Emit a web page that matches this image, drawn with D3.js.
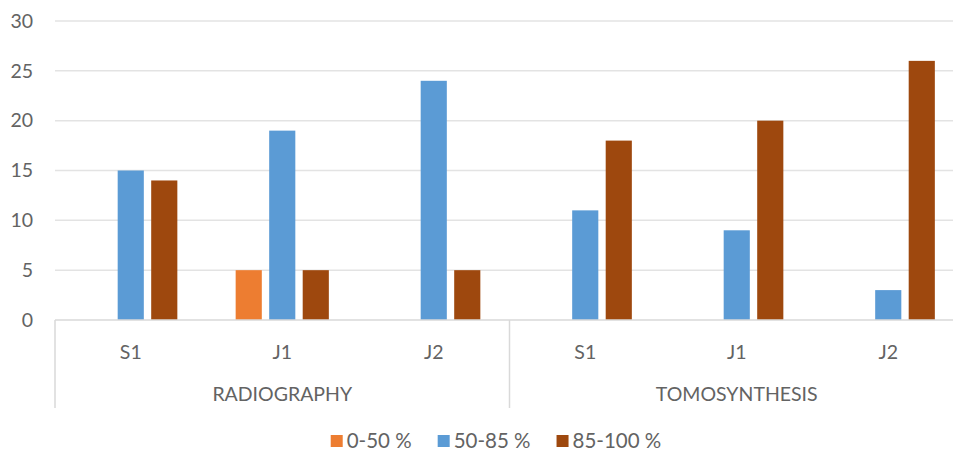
<!DOCTYPE html>
<html>
<head>
<meta charset="utf-8">
<script src="https://cdn.jsdelivr.net/npm/d3@7"></script>
<style>
  html, body { margin: 0; padding: 0; background: #fff; }
  svg { display: block; font-family: Lato, "Open Sans", sans-serif; }
</style>
</head>
<body>
<svg id="chart" width="953" height="451"></svg>
<script>
// Scores per reader, grouped by imaging modality
const groups = ["RADIOGRAPHY", "TOMOSYNTHESIS"];
const readers = ["S1", "J1", "J2"];
const seriesNames = ["0-50 %", "50-85 %", "85-100 %"];
const seriesColors = ["#ED7D31", "#5B9BD5", "#9E480E"];
const low = [0, 5, 0, 0, 0, 0];
const mid = [15, 19, 24, 11, 9, 3];
const high = [14, 5, 5, 18, 20, 26];
const yTicks = [0, 5, 10, 15, 20, 25, 30];

const seriesValues = [low, mid, high];
const categories = [];
groups.forEach(g => readers.forEach(r => categories.push({ key: g + "|" + r, group: g, reader: r })));

const svg = d3.select("#chart");
const plotLeft = 55, plotRight = 964, plotTop = 21, plotBottom = 320;
const textColor = "#636363";
const fontSize = 19.5;

const x0 = d3.scaleBand().domain(categories.map(c => c.key)).range([plotLeft, plotRight]);
const x1 = d3.scaleBand().domain(seriesNames).range([0, x0.bandwidth()])
  .paddingInner(0.22).paddingOuter(0.87);
const y = d3.scaleLinear().domain([0, 30]).range([plotBottom, plotTop]);

// Horizontal gridlines
svg.append("g").selectAll("line").data(yTicks.filter(t => t > 0)).join("line")
  .attr("x1", plotLeft).attr("x2", 953)
  .attr("y1", d => y(d)).attr("y2", d => y(d))
  .attr("stroke", "#e3e3e3").attr("stroke-width", 1.5);

// Y axis labels
svg.append("g").selectAll("text").data(yTicks).join("text")
  .attr("x", 33).attr("y", d => y(d)).attr("dy", "0.35em")
  .attr("text-anchor", "end").attr("fill", textColor).attr("font-size", fontSize)
  .text(d => d);

// Bars
const barData = [];
categories.forEach((c, i) => seriesNames.forEach((s, j) => {
  barData.push({ cat: c.key, series: s, value: seriesValues[j][i], color: seriesColors[j] });
}));
svg.append("g").selectAll("rect").data(barData.filter(d => d.value > 0)).join("rect")
  .attr("x", d => x0(d.cat) + x1(d.series))
  .attr("width", x1.bandwidth())
  .attr("y", d => y(d.value))
  .attr("height", d => y(0) - y(d.value))
  .attr("fill", d => d.color);

// Category axis: baseline and group separators
svg.append("line").attr("x1", plotLeft).attr("x2", 953).attr("y1", y(0)).attr("y2", y(0))
  .attr("stroke", "#d9d9d9").attr("stroke-width", 1.5);
const sepX = groups.map(g => x0(g + "|" + readers[0]));
svg.append("g").selectAll("line").data(sepX).join("line")
  .attr("x1", d => d).attr("x2", d => d)
  .attr("y1", y(0)).attr("y2", 408)
  .attr("stroke", "#d9d9d9").attr("stroke-width", 1.5);

// Reader labels
svg.append("g").selectAll("text").data(categories).join("text")
  .attr("x", d => x0(d.key) + x0.bandwidth() / 2).attr("y", 352).attr("dy", "0.35em")
  .attr("text-anchor", "middle").attr("fill", textColor).attr("font-size", fontSize)
  .text(d => d.reader);

// Group labels
svg.append("g").selectAll("text").data(groups).join("text")
  .attr("x", g => x0(g + "|" + readers[1]) + x0.bandwidth() / 2).attr("y", 394).attr("dy", "0.35em")
  .attr("text-anchor", "middle").attr("fill", textColor).attr("font-size", fontSize)
  .text(g => g);

// Legend, laid out from measured text widths and centred under the plot
const legendCenter = 496, swatch = 12, swatchGap = 4, itemGap = 26, legendY = 441;
const lg = svg.append("g");
const items = lg.selectAll("g").data(seriesNames).join("g");
items.append("rect").attr("x", 0).attr("y", -swatch / 2).attr("width", swatch).attr("height", swatch)
  .attr("fill", (d, i) => seriesColors[i]);
items.append("text").attr("x", swatch + swatchGap).attr("y", 0).attr("dy", "0.35em")
  .attr("fill", textColor).attr("font-size", 20.5).text(d => d);
let offset = 0;
const offsets = [];
items.each(function () {
  offsets.push(offset);
  const w = swatch + swatchGap + d3.select(this).select("text").node().getComputedTextLength();
  offset += w + itemGap;
});
const totalWidth = offset - itemGap;
items.attr("transform", (d, i) => `translate(${legendCenter - totalWidth / 2 + offsets[i]},${legendY})`);
</script>
</body>
</html>
